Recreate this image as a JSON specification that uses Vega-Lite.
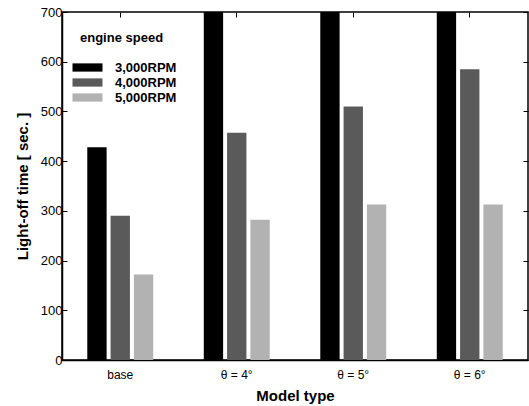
{
  "$schema": "https://vega.github.io/schema/vega-lite/v6.json",
  "width": 466,
  "height": 348,
  "autosize": "none",
  "padding": {"left": 62, "top": 12, "right": 1, "bottom": 46},
  "background": "white",
  "config": {
    "view": {"stroke": "black", "strokeWidth": 1.5},
    "font": "Liberation Sans"
  },
  "data": {
    "values": [
      {"model": "base", "speed": "3,000RPM", "time": 428},
      {"model": "base", "speed": "4,000RPM", "time": 290},
      {"model": "base", "speed": "5,000RPM", "time": 172},
      {"model": "θ = 4°", "speed": "3,000RPM", "time": 760},
      {"model": "θ = 4°", "speed": "4,000RPM", "time": 457},
      {"model": "θ = 4°", "speed": "5,000RPM", "time": 282},
      {"model": "θ = 5°", "speed": "3,000RPM", "time": 760},
      {"model": "θ = 5°", "speed": "4,000RPM", "time": 510},
      {"model": "θ = 5°", "speed": "5,000RPM", "time": 313},
      {"model": "θ = 6°", "speed": "3,000RPM", "time": 760},
      {"model": "θ = 6°", "speed": "4,000RPM", "time": 585},
      {"model": "θ = 6°", "speed": "5,000RPM", "time": 313}
    ]
  },
  "layer": [
    {
      "mark": {"type": "bar", "clip": true},
      "encoding": {
        "x": {
          "field": "model",
          "type": "nominal",
          "sort": null,
          "scale": {"paddingInner": 0.4, "paddingOuter": 0.2},
          "axis": {
            "title": "Model type",
            "titleFont": "Liberation Sans",
            "titleFontSize": 15,
            "titleFontWeight": "bold",
            "titleColor": "black",
            "titlePadding": 8,
            "labelAngle": 0,
            "labelFontSize": 12,
            "labelColor": "black",
            "labelPadding": 9,
            "ticks": false,
            "domainColor": "black",
            "domainWidth": 1.5
          }
        },
        "xOffset": {
          "field": "speed",
          "type": "nominal",
          "scale": {"paddingInner": 0.17, "paddingOuter": 0.085}
        },
        "y": {
          "field": "time",
          "type": "quantitative",
          "scale": {"domain": [0, 700], "nice": false},
          "axis": {
            "title": "Light-off time [ sec. ]",
            "titleFont": "Liberation Sans",
            "titleFontSize": 15,
            "titleFontWeight": "bold",
            "titleColor": "black",
            "titlePadding": 10,
            "values": [0, 100, 200, 300, 400, 500, 600, 700],
            "labelFontSize": 13,
            "labelColor": "black",
            "labelPadding": 5,
            "tickSize": -5,
            "tickColor": "black",
            "domainColor": "black",
            "domainWidth": 1.5,
            "grid": false
          }
        },
        "color": {
          "field": "speed",
          "type": "nominal",
          "scale": {
            "domain": ["3,000RPM", "4,000RPM", "5,000RPM"],
            "range": ["#000000", "#5a5a5a", "#b2b2b2"]
          },
          "legend": {
            "title": "engine speed",
            "orient": "none",
            "legendX": 18,
            "legendY": 20,
            "titleFont": "Liberation Sans",
            "titleFontSize": 13,
            "titleFontWeight": "bold",
            "titleColor": "black",
            "titlePadding": 15,
            "labelFont": "Liberation Sans",
            "labelFontSize": 13,
            "labelFontWeight": "bold",
            "labelColor": "black",
            "labelOffset": 20,
            "symbolType": "M-2,-0.55h4v1.1h-4z",
            "symbolSize": 225,
            "symbolStrokeWidth": 0,
            "symbolOpacity": 1,
            "rowPadding": 0
          }
        }
      }
    },
    {
      "mark": {"type": "tick", "opacity": 0},
      "encoding": {
        "x": {
          "field": "model",
          "type": "nominal",
          "sort": null,
          "axis": {
            "orient": "top",
            "title": null,
            "labels": false,
            "tickSize": -5,
            "tickColor": "black",
            "domain": false
          }
        },
        "y": {
          "field": "time",
          "type": "quantitative",
          "scale": {"domain": [0, 700], "nice": false},
          "axis": {
            "orient": "right",
            "title": null,
            "labels": false,
            "values": [0, 100, 200, 300, 400, 500, 600, 700],
            "tickSize": -5,
            "tickColor": "black",
            "domain": false,
            "grid": false
          }
        }
      }
    }
  ],
  "resolve": {"axis": {"x": "independent", "y": "independent"}}
}
